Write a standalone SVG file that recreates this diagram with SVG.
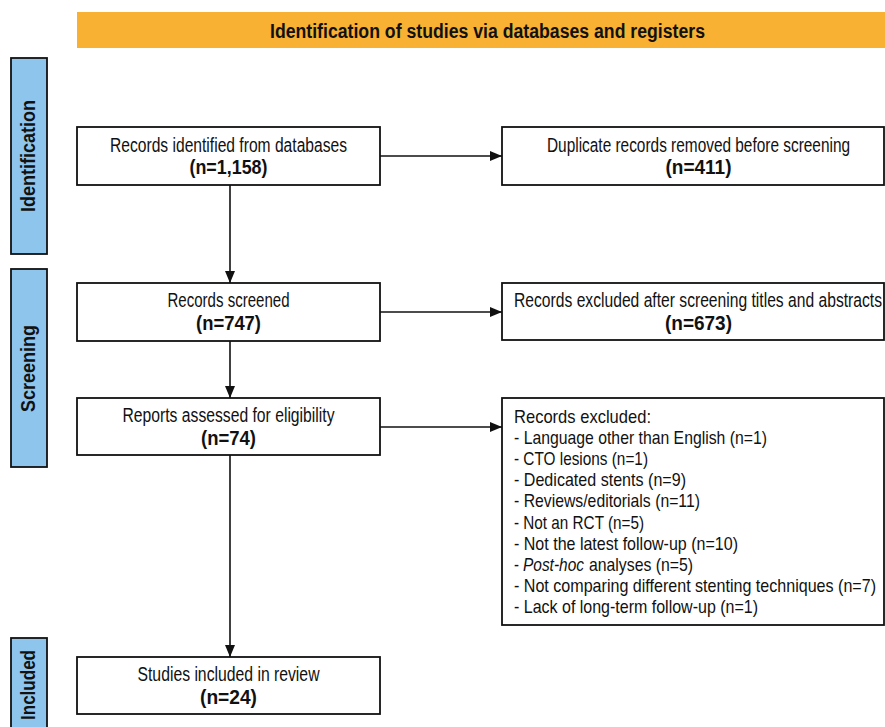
<svg xmlns="http://www.w3.org/2000/svg" width="885" height="727" viewBox="0 0 885 727">
<style>
text{font-family:"Liberation Sans",Arial,sans-serif;font-size:19.5px;fill:#111}
.b{font-weight:bold;font-size:19.5px}
.c{text-anchor:middle}
.l{font-size:19px}
.box{fill:#fff;stroke:#111;stroke-width:1.8}
.side{fill:#8DC5EC;stroke:#111;stroke-width:1.8}
.sl{font-weight:bold;font-size:20px;text-anchor:middle}
.con{stroke:#111;stroke-width:1.6;fill:none;marker-end:url(#ah)}
</style>
<defs>
<marker id="ah" viewBox="0 0 12 10" refX="12" refY="5" markerWidth="12" markerHeight="10" markerUnits="userSpaceOnUse" orient="auto"><path d="M0,0L12,5L0,10z" fill="#111"/></marker>
</defs>
<rect width="885" height="727" fill="#fff"/>
<g id="header">
<rect x="77" y="12" width="808" height="36" fill="#F8B133"/>
<text class="c" x="487.5" y="38.3" font-weight="bold" font-size="24" textLength="435" lengthAdjust="spacingAndGlyphs">Identification of studies via databases and registers</text>
</g>
<g id="phase-identification">
<rect class="side" x="11" y="58" width="36" height="196"/>
<text class="sl" transform="translate(35,156) rotate(-90)" textLength="112" lengthAdjust="spacingAndGlyphs">Identification</text>
</g>
<g id="phase-screening">
<rect class="side" x="11" y="269" width="36" height="198"/>
<text class="sl" transform="translate(35,368.5) rotate(-90)" textLength="87" lengthAdjust="spacingAndGlyphs">Screening</text>
</g>
<g id="phase-included">
<rect class="side" x="11" y="638" width="36" height="100"/>
<text class="sl" transform="translate(35,685) rotate(-90)" textLength="70" lengthAdjust="spacingAndGlyphs">Included</text>
</g>
<g id="identified">
<rect class="box" x="77" y="127" width="303" height="58"/>
<text class="c" x="228.5" y="151.7" textLength="237" lengthAdjust="spacingAndGlyphs">Records identified from databases</text>
<text class="b c" x="228.5" y="173.5" textLength="78" lengthAdjust="spacingAndGlyphs">(n=1,158)</text>
</g>
<g id="duplicates">
<rect class="box" x="502" y="127" width="382" height="58"/>
<text class="c" transform="translate(698.5,151.7) scale(0.78,1)" x="0" y="0" textLength="388.5" lengthAdjust="spacingAndGlyphs">Duplicate records removed before screening</text>
<text class="b c" x="698.5" y="173.5" textLength="66" lengthAdjust="spacingAndGlyphs">(n=411)</text>
</g>
<g id="screened">
<rect class="box" x="77" y="283" width="303" height="58"/>
<text class="c" x="228.5" y="307.2" textLength="122" lengthAdjust="spacingAndGlyphs">Records screened</text>
<text class="b c" x="228.5" y="329.5" textLength="65" lengthAdjust="spacingAndGlyphs">(n=747)</text>
</g>
<g id="excluded-screening">
<rect class="box" x="502" y="283" width="382" height="57"/>
<text class="c" transform="translate(698,307.2) scale(0.74,1)" x="0" y="0" textLength="497.3" lengthAdjust="spacingAndGlyphs">Records excluded after screening titles and abstracts</text>
<text class="b c" x="698.5" y="329.5" textLength="67" lengthAdjust="spacingAndGlyphs">(n=673)</text>
</g>
<g id="assessed">
<rect class="box" x="77" y="398" width="303" height="57"/>
<text class="c" x="228.5" y="422.2" textLength="212" lengthAdjust="spacingAndGlyphs">Reports assessed for eligibility</text>
<text class="b c" x="228.5" y="444.5" textLength="55" lengthAdjust="spacingAndGlyphs">(n=74)</text>
</g>
<g id="excluded-reports">
<rect class="box" x="502" y="398" width="382" height="227"/>
<text class="l" x="514" y="422.5" textLength="137" lengthAdjust="spacingAndGlyphs">Records excluded:</text>
<text class="l" x="514" y="443.7" textLength="253" lengthAdjust="spacingAndGlyphs">- Language other than English (n=1)</text>
<text class="l" x="514" y="464.9" textLength="134" lengthAdjust="spacingAndGlyphs">- CTO lesions (n=1)</text>
<text class="l" x="514" y="486.1" textLength="172" lengthAdjust="spacingAndGlyphs">- Dedicated stents (n=9)</text>
<text class="l" x="514" y="507.3" textLength="186" lengthAdjust="spacingAndGlyphs">- Reviews/editorials (n=11)</text>
<text class="l" x="514" y="528.5" textLength="130" lengthAdjust="spacingAndGlyphs">- Not an RCT (n=5)</text>
<text class="l" x="514" y="549.7" textLength="224" lengthAdjust="spacingAndGlyphs">- Not the latest follow-up (n=10)</text>
<text class="l" x="514" y="570.9" textLength="5" lengthAdjust="spacingAndGlyphs">-</text>
<text class="l" transform="translate(523,570.9) scale(0.75,1)" x="0" y="0" font-style="italic" textLength="81.3" lengthAdjust="spacingAndGlyphs">Post-hoc</text>
<text class="l" transform="translate(589,570.9) scale(0.75,1)" x="0" y="0" textLength="138.7" lengthAdjust="spacingAndGlyphs">analyses (n=5)</text>
<text class="l" transform="translate(514,592.1) scale(0.75,1)" x="0" y="0" textLength="482.7" lengthAdjust="spacingAndGlyphs">- Not comparing different stenting techniques (n=7)</text>
<text class="l" x="514" y="613.3" textLength="244" lengthAdjust="spacingAndGlyphs">- Lack of long-term follow-up (n=1)</text>
</g>
<g id="included">
<rect class="box" x="77" y="657" width="303" height="57"/>
<text class="c" x="228.5" y="681.2" textLength="182" lengthAdjust="spacingAndGlyphs">Studies included in review</text>
<text class="b c" x="228.5" y="703.5" textLength="57" lengthAdjust="spacingAndGlyphs">(n=24)</text>
</g>
<g id="connectors">
<line class="con" x1="380" y1="156" x2="502" y2="156"/>
<line class="con" x1="230" y1="185" x2="230" y2="283"/>
<line class="con" x1="380" y1="312" x2="502" y2="312"/>
<line class="con" x1="230" y1="341" x2="230" y2="398"/>
<line class="con" x1="380" y1="427" x2="502" y2="427"/>
<line class="con" x1="230" y1="455" x2="230" y2="657"/>
</g>
</svg>
